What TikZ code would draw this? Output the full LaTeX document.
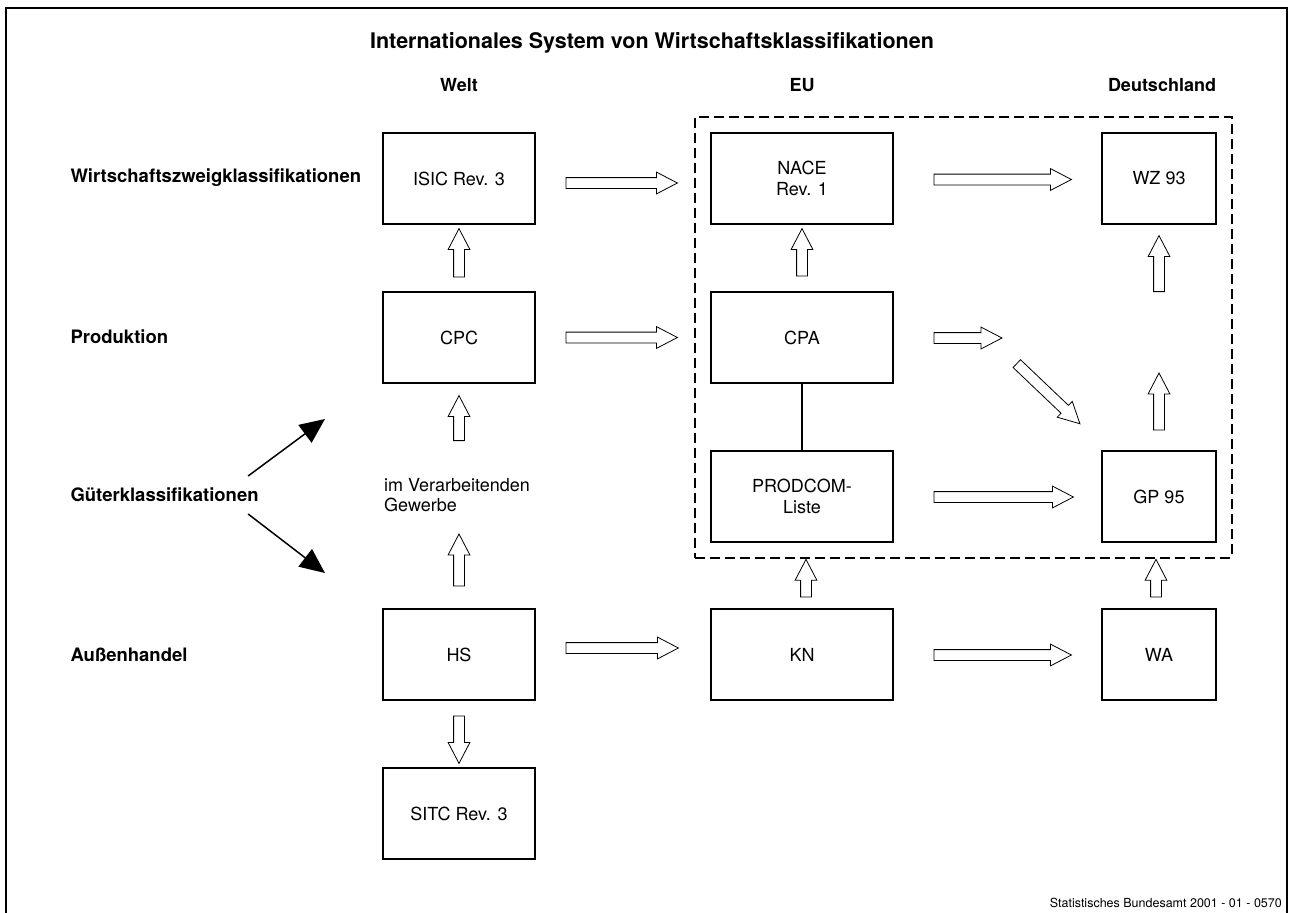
\documentclass[tikz,border=0pt]{standalone}
\usepackage{fontspec}
\setmainfont{TeX Gyre Heros}
\usetikzlibrary{arrows.meta,positioning,calc,fit,shapes.arrows}
\tikzset{
  box/.style={draw,line width=1.6pt,minimum height=91pt,inner sep=0pt,
              align=center,font=\fontsize{18}{21.5}\selectfont},
  wbox/.style={box,minimum width=152pt},
  ebox/.style={box,minimum width=182pt},
  dbox/.style={box,minimum width=114pt},
  eubox/.style={draw,dashed,dash pattern=on 10pt off 5pt,line width=1.5pt,inner sep=15pt},
  fat/.style={draw,fill=white,line width=.8pt,single arrow,single arrow tip angle=55,
              single arrow head extend=5.5pt,inner xsep=0pt,inner ysep=5pt,
              midway,sloped,allow upside down},
  rowlbl/.style={anchor=west,font=\fontsize{18.5}{22}\selectfont\bfseries},
  hdr/.style={font=\fontsize{18}{22}\selectfont\bfseries},
  ar/.style={-{Triangle[length=25pt,width=22pt]},line width=1.5pt},
}
% hollow block arrow between two points
\newcommand\fatar[2]{\path let \p1=#1,\p2=#2,\n1={veclen(\x2-\x1,\y2-\y1)} in
  (\p1) -- (\p2) node[fat,minimum height=\n1]{};}

\begin{document}
\begin{tikzpicture}[x=1pt,y=-1pt]
  \useasboundingbox (0,0) rectangle (1294,913);
  \draw[line width=1.6pt] (6,913) -- (6,8) -- (1287,8) -- (1287,913);
  \node[font=\fontsize{21.5}{25}\selectfont\bfseries] (title) at (652,43)
    {Internationales System von Wirtschaftsklassifikationen};
  \node[hdr] (welt) at (459,85) {Welt};
  \node[hdr] (euh) at (802,85) {EU};
  \node[hdr] (deh) at (1162,85) {Deutschland};
  % row labels
  \node[rowlbl] (wzk) at (67,178) {Wirtschaftszweigklassifikationen};
  \node[rowlbl] (prod) at (67,337) {Produktion};
  \node[rowlbl] (gueter) at (67,495) {Güterklassifikationen};
  \node[rowlbl] (aussen) at (67,655) {Außenhandel};
  % Welt
  \node[wbox] (isic) at (459,178.5) {ISIC Rev. 3};
  \node[wbox] (cpc) at (459,337.5) {CPC};
  \node[anchor=west,align=left,inner sep=0pt,font=\fontsize{18}{20}\selectfont]
    (verarb) at (384,495) {im Verarbeitenden\\Gewerbe};
  \node[wbox] (hs) at (459,654.5) {HS};
  \node[wbox] (sitc) at (459,813.5) {SITC Rev. 3};
  % EU
  \node[ebox] (nace) at (802,178.5) {NACE\\Rev. 1};
  \node[ebox] (cpa) at (802,337.5) {CPA};
  \node[ebox] (prodcom) at (802,496.5) {PRODCOM-\\Liste};
  \node[ebox] (kn) at (802,654.5) {KN};
  % Deutschland
  \node[dbox] (wz) at (1159,178.5) {WZ 93};
  \node[dbox] (gp) at (1159,496.5) {GP 95};
  \node[dbox] (wa) at (1159,654.5) {WA};
  \node[eubox,fit=(nace)(wz)(prodcom)(gp)] (eu) {};
  \node[anchor=east,inner sep=0pt,font=\fontsize{12.5}{14}\selectfont] (src) at (1282,903)
    {Statistisches Bundesamt 2001 - 01 - 0570};

  \draw[line width=1.5pt] (cpa) -- (prodcom);
  \coordinate (gup) at (325,419);
  \coordinate (gdn) at (325,573);
  \draw[ar] ($(gueter.east)+(-14,-19)$) -- (gup);
  \draw[ar] ($(gueter.east)+(-14,19)$) -- (gdn);

  % horizontal
  \fatar{($(isic.east)+(25,4.5)$)}{($(nace.west)+(-38,4.5)$)}
  \fatar{($(nace.east)+(35,1)$)}{($(wz.west)+(-35,1)$)}
  \fatar{($(cpc.east)+(25,0)$)}{($(cpa.west)+(-38,0)$)}
  \fatar{($(cpa.east)+(35,0.5)$)}{($(cpa.east)+(103,0.5)$)}
  \fatar{($(prodcom.east)+(35,0.5)$)}{($(gp.west)+(-33,0.5)$)}
  \fatar{($(hs.east)+(25,-6.5)$)}{($(kn.west)+(-37,-6.5)$)}
  \fatar{($(kn.east)+(35,0.5)$)}{($(wa.west)+(-35,0.5)$)}
  \coordinate (dg) at (1013,360);
  \fatar{(dg)}{($(gp.north west)+(-25,-30)$)}
  % vertical
  \fatar{($(cpc.north)+(0,-9)$)}{($(isic.south)+(0,9)$)}
  \fatar{($(cpa.north)+(0,-10)$)}{($(nace.south)+(0,9)$)}
  \fatar{($(wz.south)+(0,72)$)}{($(wz.south)+(0,16)$)}
  \fatar{($(gp.north)+(0,-15)$)}{($(gp.north)+(0,-72)$)}
  \fatar{($(cpc.south)+(0,62)$)}{($(cpc.south)+(0,17)$)}
  \fatar{($(hs.north)+(0,-17)$)}{($(hs.north)+(0,-69)$)}
  \fatar{($(kn.north)+(4,-6)$)}{($(kn.north|-eu.south)+(4,6)$)}
  \fatar{($(wa.north)+(-3,-6)$)}{($(wa.north|-eu.south)+(-3,6)$)}
  \fatar{($(hs.south)+(0,10)$)}{($(sitc.north)+(0,-9)$)}
\end{tikzpicture}
\end{document}
